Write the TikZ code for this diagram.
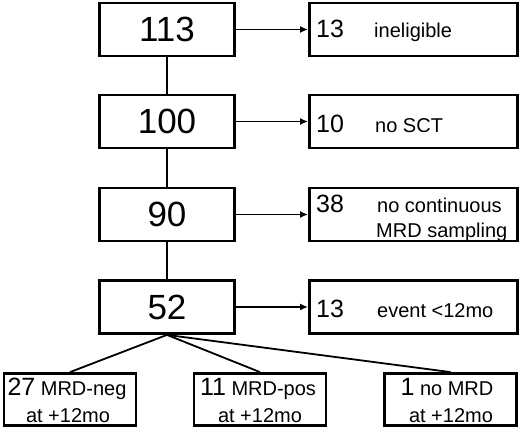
\documentclass[tikz,border=0pt]{standalone}
\usepackage{fontspec}
\setmainfont{Liberation Sans}
\usetikzlibrary{arrows.meta}

\begin{document}
\begin{tikzpicture}[x=1pt, y=-1pt, every node/.style={inner sep=0pt},
	mainbox/.style={draw, line width=2.8pt, minimum width=135pt, minimum height=53pt, font=\fontsize{35}{40}\selectfont},
	sidebox/.style={draw, line width=2.8pt, minimum width=208pt, minimum height=53pt},
	endbox/.style={draw, line width=2.8pt, minimum width=132pt, minimum height=52pt},
	num/.style={anchor=base west, font=\fontsize{25}{30}\selectfont},
	lbl/.style={anchor=base west, font=\fontsize{20}{24}\selectfont},
	endtxt/.style={anchor=base, font=\fontsize{20}{24}\selectfont},
	link/.style={line width=1.8pt},
	flow/.style={link, -{Latex[length=8pt, width=7pt]}}]
	\useasboundingbox (0,0) rectangle (520,428);
	\node[mainbox] (m113) at (167,29.5) {113};
	\node[mainbox] (m100) at (167,121.5) {100};
	\node[mainbox] (m90) at (167,214.5) {90};
	\node[mainbox] (m52) at (167,307) {52};
	\node[sidebox] (sInel) at (413.5,29.5) {};
	\node[sidebox] (sSct) at (413.5,121.5) {};
	\node[sidebox] (sMrd) at (413.5,214.5) {};
	\node[sidebox] (sEvent) at (413.5,307) {};
	\node[num] (nInel) at (316,38) {13};
	\node[lbl] (tInel) at (374,38) {ineligible};
	\node[num] (nSct) at (316,132) {10};
	\node[lbl] (tSct) at (375,132) {no SCT};
	\node[num] (nMrd) at (316,212) {38};
	\node[lbl] (tMrdA) at (377,212) {no continuous};
	\node[lbl] (tMrdB) at (376,237) {MRD sampling};
	\node[num] (nEvent) at (316,317) {13};
	\node[lbl] (tEvent) at (377,317) {event <12mo};
	\node[endbox] (eNeg) at (70,399.5) {};
	\node[endbox] (ePos) at (260,399.5) {};
	\node[endbox] (eNone) at (450.5,399.5) {};
	\node[endtxt] (tNegA) at (67,395) {{\fontsize{25}{30}\selectfont 27} MRD-neg};
	\node[endtxt] (tNegB) at (68,422) {at +12mo};
	\node[endtxt] (tPosA) at (258,395) {{\fontsize{25}{30}\selectfont 11} MRD-pos};
	\node[endtxt] (tPosB) at (260,422) {at +12mo};
	\node[endtxt] (tNoneA) at (447,395) {{\fontsize{25}{30}\selectfont 1} no MRD};
	\node[endtxt] (tNoneB) at (451,422) {at +12mo};
	\draw[link] (m113) -- (m100);
	\draw[link] (m100) -- (m90);
	\draw[link] (m90) -- (m52);
	\draw[flow] (m113) -- (sInel);
	\draw[flow] (m100) -- (sSct);
	\draw[flow] (m90) -- (sMrd);
	\draw[flow] (m52) -- (sEvent);
	\draw[link] (m52.south) -- (eNeg.north);
	\draw[link] (m52.south) -- (ePos.north);
	\draw[link] (m52.south) -- (eNone.north);
\end{tikzpicture}
\end{document}
